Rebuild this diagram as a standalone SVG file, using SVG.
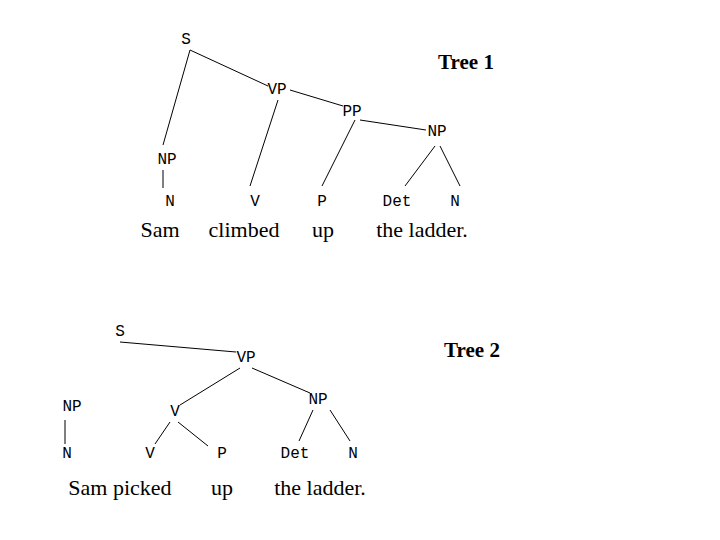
<svg xmlns="http://www.w3.org/2000/svg" width="720" height="540" viewBox="0 0 720 540">
<style>
.l{font-family:"Liberation Mono",monospace;font-size:16px;fill:#000;text-anchor:middle}
.w{font-family:"Liberation Serif",serif;font-size:22px;fill:#000;text-anchor:middle}
.t{font-family:"Liberation Serif",serif;font-size:21px;font-weight:bold;fill:#000;text-anchor:middle}
line{stroke:#000;stroke-width:1}
</style>
<rect width="720" height="540" fill="#fff"/>
<g id="connectors">
<line x1="190" y1="50" x2="163" y2="145"/>
<line x1="190" y1="50" x2="268" y2="86"/>
<line x1="278" y1="100" x2="250" y2="186"/>
<line x1="290" y1="90" x2="343" y2="106"/>
<line x1="355" y1="120" x2="322" y2="186"/>
<line x1="360" y1="120" x2="426" y2="130"/>
<line x1="435" y1="146" x2="405" y2="186"/>
<line x1="440" y1="146" x2="460" y2="186"/>
<line x1="163" y1="170" x2="163" y2="188"/>
<line x1="120" y1="342" x2="236" y2="352"/>
<line x1="240" y1="368" x2="180" y2="405"/>
<line x1="252" y1="368" x2="310" y2="393"/>
<line x1="170" y1="422" x2="155" y2="444"/>
<line x1="178" y1="422" x2="208" y2="446"/>
<line x1="313" y1="410" x2="299" y2="441"/>
<line x1="330" y1="410" x2="350" y2="441"/>
<line x1="65" y1="420" x2="65" y2="444"/>
</g>
<g id="tree1">
<text class="l" x="186" y="44">S</text>
<text class="l" x="277" y="94">VP</text>
<text class="l" x="352" y="116">PP</text>
<text class="l" x="437" y="136">NP</text>
<text class="l" x="167" y="164">NP</text>
<text class="l" x="170" y="206">N</text>
<text class="l" x="255" y="206">V</text>
<text class="l" x="322" y="206">P</text>
<text class="l" x="397" y="206">Det</text>
<text class="l" x="455" y="206">N</text>
<text class="w" x="160" y="237">Sam</text>
<text class="w" x="244" y="237">climbed</text>
<text class="w" x="323" y="237">up</text>
<text class="w" x="422" y="237">the ladder.</text>
<text class="t" x="466" y="69">Tree 1</text>
</g>
<g id="tree2">
<text class="l" x="120" y="336">S</text>
<text class="l" x="246" y="362">VP</text>
<text class="l" x="72" y="411">NP</text>
<text class="l" x="175" y="416">V</text>
<text class="l" x="318" y="404">NP</text>
<text class="l" x="67" y="458">N</text>
<text class="l" x="150" y="458">V</text>
<text class="l" x="222" y="458">P</text>
<text class="l" x="295" y="458">Det</text>
<text class="l" x="353" y="458">N</text>
<text class="w" x="120" y="495">Sam  picked</text>
<text class="w" x="222" y="495">up</text>
<text class="w" x="320" y="495">the ladder.</text>
<text class="t" x="472" y="357">Tree 2</text>
</g>
</svg>
